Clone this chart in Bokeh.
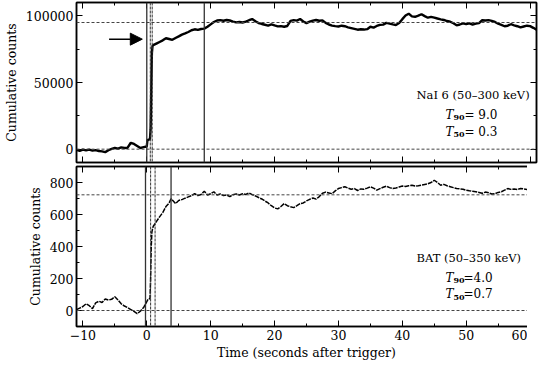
from bokeh.plotting import figure
from bokeh.models import (Span, Label, Arrow, NormalHead, LinearAxis, Range1d,
                          BasicTickFormatter, SingleIntervalTicker)
from bokeh.layouts import column
from bokeh.embed import file_html
from bokeh.resources import INLINE

# ---------------- data ----------------
nai_time = [-11.0, -10.5, -10.0, -9.5, -9.0, -8.5, -8.0, -7.5, -7.0, -6.5, -6.0, -5.5,
            -5.0, -4.5, -4.0, -3.5, -3.0, -2.5, -2.0, -1.5, -1.0, -0.5, 0.0, 0.1, 0.5,
            0.6, 0.7, 0.8, 0.9, 1.0, 1.5, 2.0, 2.5, 3.0, 3.5, 4.0, 4.5, 5.0, 5.5, 6.0,
            6.5, 7.0, 7.5, 8.0, 8.5, 9.0, 9.5, 10.0, 10.5, 11.0, 11.5, 12.0, 12.5, 13.0,
            13.5, 14.0, 14.5, 15.0, 15.5, 16.0, 16.5, 17.0, 17.5, 18.0, 18.5, 19.0, 19.5,
            20.0, 20.5, 21.0, 21.5, 22.0, 22.5, 23.0, 23.5, 24.0, 24.5, 25.0, 25.5, 26.0,
            26.5, 27.0, 27.5, 28.0, 28.5, 29.0, 29.5, 30.0, 30.5, 31.0, 31.5, 32.0, 32.5,
            33.0, 33.5, 34.0, 34.5, 35.0, 35.5, 36.0, 36.5, 37.0, 37.5, 38.0, 38.5, 39.0,
            39.5, 40.0, 40.5, 41.0, 41.5, 42.0, 42.5, 43.0, 43.5, 44.0, 44.5, 45.0, 45.5,
            46.0, 46.5, 47.0, 47.5, 48.0, 48.5, 49.0, 49.5, 50.0, 50.5, 51.0, 51.5, 52.0,
            52.5, 53.0, 53.5, 54.0, 54.5, 55.0, 55.5, 56.0, 56.5, 57.0, 57.5, 58.0, 58.5,
            59.0, 59.5, 60.0, 60.5, 61.0]
nai_counts = [-500, -1200, -300, -900, -400, -1100, -700, -1400, -1700, -2200, -800, 200,
              900, 400, 1300, 900, 1100, 4800, 3900, 2400, 900, 1500, 2000, 6800, 7600,
              15000, 45000, 72000, 77400, 78000, 79200, 80400, 81600, 83200, 82600, 82000,
              83400, 84600, 85900, 86800, 87900, 89200, 89900, 89500, 90100, 90400, 91800,
              93600, 95400, 96500, 96800, 96300, 96900, 96500, 95700, 95100, 95400, 95000,
              95600, 96700, 97600, 96000, 94600, 93900, 93300, 92700, 93600, 92800, 92100,
              92300, 91800, 92400, 96200, 96800, 96400, 97600, 95800, 94500, 95600, 96400,
              96900, 96300, 96600, 94700, 93500, 92700, 92300, 92000, 92600, 92200, 91400,
              90800, 90200, 89600, 89900, 89700, 90000, 91800, 91200, 92400, 93200, 93400,
              94700, 94200, 93600, 93100, 94600, 97500, 100200, 101600, 99600, 99300,
              100100, 101200, 99800, 98600, 99200, 98700, 98000, 97400, 96900, 96100,
              95600, 94400, 92900, 93500, 94400, 93800, 94300, 93400, 94100, 94600, 96700,
              96500, 96800, 96200, 95400, 94100, 93200, 92200, 92600, 93700, 92900, 92200,
              91300, 92000, 92600, 92300, 91000, 89600]

bat_time = [-11.0, -10.5, -10.0, -9.5, -9.0, -8.5, -8.0, -7.5, -7.0, -6.5, -6.0, -5.5,
            -5.0, -4.5, -4.0, -3.5, -3.0, -2.5, -2.0, -1.5, -1.0, -0.5, 0.0, 0.2, 0.5,
            0.6, 0.7, 0.8, 0.9, 1.0, 1.5, 2.0, 2.5, 3.0, 3.5, 3.8, 4.0, 4.5, 5.0, 5.5,
            6.0, 6.5, 7.0, 7.5, 8.0, 8.5, 9.0, 9.5, 10.0, 10.5, 11.0, 11.5, 12.0, 12.5,
            13.0, 13.5, 14.0, 14.5, 15.0, 15.5, 16.0, 16.5, 17.0, 17.5, 18.0, 18.5, 19.0,
            19.5, 20.0, 20.5, 21.0, 21.5, 22.0, 22.5, 23.0, 23.5, 24.0, 24.5, 25.0, 25.5,
            26.0, 26.5, 27.0, 27.5, 28.0, 28.5, 29.0, 29.5, 30.0, 30.5, 31.0, 31.5, 32.0,
            32.5, 33.0, 33.5, 34.0, 34.5, 35.0, 35.5, 36.0, 36.5, 37.0, 37.5, 38.0, 38.5,
            39.0, 39.5, 40.0, 40.5, 41.0, 41.5, 42.0, 42.5, 43.0, 43.5, 44.0, 44.5, 45.0,
            45.5, 46.0, 46.5, 47.0, 47.5, 48.0, 48.5, 49.0, 49.5, 50.0, 50.5, 51.0, 51.5,
            52.0, 52.5, 53.0, 53.5, 54.0, 54.5, 55.0, 55.5, 56.0, 56.5, 57.0, 57.5, 58.0,
            58.5, 59.0, 59.5, 60.0, 60.5, 61.0]
bat_counts = [5, 15, 25, 42, 30, 12, 48, 58, 50, 72, 65, 70, 86, 66, 42, 28, 18, 6, -6,
              -20, -4, 18, 55, 70, 75, 200, 400, 490, 510, 525, 555, 585, 612, 650, 672,
              698, 690, 668, 688, 693, 702, 710, 718, 730, 718, 725, 745, 722, 730, 742,
              722, 728, 718, 722, 712, 724, 729, 722, 730, 725, 735, 724, 716, 706, 697,
              684, 672, 655, 641, 635, 650, 668, 655, 648, 643, 655, 668, 672, 685, 695,
              703, 696, 712, 733, 740, 735, 730, 748, 762, 768, 773, 765, 758, 762, 750,
              760, 758, 765, 773, 765, 752, 762, 770, 777, 768, 762, 766, 772, 778, 775,
              780, 783, 778, 780, 784, 788, 792, 800, 814, 800, 783, 788, 780, 774, 768,
              763, 760, 758, 752, 748, 745, 742, 738, 733, 740, 736, 728, 730, 738, 742,
              752, 762, 757, 760, 756, 762, 760, 756, 758, 760, 757]

nai_levels = [0, 95000]          # 0 % and 100 % fluence levels
bat_levels = [0, 723]
nai_t90 = [0.0, 9.0]
nai_t50 = [0.55, 0.85]
bat_t90 = [-0.2, 3.8]
bat_t50 = [0.6, 1.3]
nai_name = "NaI 6 (50\u2013300 keV)"
bat_name = "BAT (50\u2013350 keV)"
nai_t90_txt, nai_t50_txt = "=  9.0", "=  0.3"
bat_t90_txt, bat_t50_txt = "=4.0", "=0.7"
arrow_x = [-5.9, -0.7]
arrow_y = 82500

x_lim = (-11.0, 61.0)
nai_lim = (-10000, 110000)
bat_lim = (-100, 900)

FONT = "DejaVu Serif"
FS = "12.5px"

xr = Range1d(*x_lim)


def style_axis(ax, show_labels):
    ax.axis_line_color = "black"
    ax.axis_line_width = 1.5
    ax.major_tick_line_color = "black"
    ax.minor_tick_line_color = "black"
    ax.major_tick_in = 6
    ax.major_tick_out = 0
    ax.minor_tick_in = 3
    ax.minor_tick_out = 0
    ax.major_label_text_font = FONT
    ax.axis_label_text_font = FONT
    ax.axis_label_text_font_style = "normal"
    ax.axis_label_text_font_size = "12.5px"
    ax.axis_label_text_color = "black"
    if show_labels:
        ax.major_label_text_color = "black"
        ax.major_label_text_font_size = FS
        ax.major_label_standoff = 3
    else:
        ax.major_label_text_color = None
        ax.major_label_text_font_size = "1px"
        ax.major_label_standoff = 0


def make_panel(t, c, ylim, yint, levels, t90, t50, dash, lw, show_x, height, bottom):
    p = figure(frame_width=460, frame_height=height, x_range=xr, y_range=Range1d(*ylim),
               output_backend="svg", toolbar_location=None, x_axis_location=None,
               y_axis_location=None, min_border_left=64, min_border_right=3,
               min_border_top=2, min_border_bottom=bottom)
    p.grid.visible = False
    p.outline_line_color = "black"
    p.outline_line_width = 1.5
    p.background_fill_color = "white"
    p.border_fill_color = "white"

    xt = SingleIntervalTicker(interval=10, num_minor_ticks=2)
    yt = SingleIntervalTicker(interval=yint, num_minor_ticks=2)

    ax_b = LinearAxis(ticker=xt)
    style_axis(ax_b, show_x)
    if show_x:
        ax_b.axis_label = "Time (seconds after trigger)"
        ax_b.axis_label_standoff = 2
    p.add_layout(ax_b, "below")
    ax_t = LinearAxis(ticker=xt)
    style_axis(ax_t, False)
    p.add_layout(ax_t, "above")

    ax_l = LinearAxis(ticker=yt, formatter=BasicTickFormatter(use_scientific=False),
                      axis_label="Cumulative counts")
    style_axis(ax_l, True)
    ax_l.axis_label_standoff = 4
    p.add_layout(ax_l, "left")
    ax_r = LinearAxis(ticker=yt)
    style_axis(ax_r, False)
    p.add_layout(ax_r, "right")

    for lv in levels:
        p.add_layout(Span(location=lv, dimension="width", line_color="#444",
                          line_dash="3 2", line_width=1))
    for tv in t90:
        p.add_layout(Span(location=tv, dimension="height", line_color="#333",
                          line_width=1.3))
    for tv in t50:
        p.add_layout(Span(location=tv, dimension="height", line_color="#333",
                          line_dash="3 1", line_width=1))

    if dash:
        p.line(t, c, line_color="black", line_width=lw, line_dash=dash)
    else:
        p.line(t, c, line_color="black", line_width=lw)
    return p


def add_texts(p, name, y_name, y90, y50, t90_txt, t50_txt, eq_off):
    xr_edge = x_lim[1]
    p.add_layout(Label(x=xr_edge, y=y_name, x_offset=-120, text=name, text_font=FONT,
                       text_font_size="11.5px", text_baseline="middle", text_align="left",
                       text_color="black"))
    for yy, sub, txt in ((y90, "90", t90_txt), (y50, "50", t50_txt)):
        p.add_layout(Label(x=xr_edge, y=yy, x_offset=-91, text="T", text_font=FONT,
                           text_font_size="12px", text_font_style="italic",
                           text_baseline="middle", text_align="left", text_color="black"))
        p.add_layout(Label(x=xr_edge, y=yy, x_offset=-83, y_offset=-3, text=sub,
                           text_font=FONT, text_font_size="8px", text_font_style="bold",
                           text_baseline="middle", text_align="left", text_color="black"))
        p.add_layout(Label(x=xr_edge, y=yy, x_offset=-91 + eq_off, text=txt, text_font=FONT,
                           text_font_size="12px", text_baseline="middle",
                           text_align="left", text_color="black"))


p1 = make_panel(nai_time, nai_counts, nai_lim, 50000, nai_levels, nai_t90, nai_t50,
                None, 2.4, False, 160, 2)
add_texts(p1, nai_name, 40700, 26000, 12900, nai_t90_txt, nai_t50_txt, 19)
p1.add_layout(Arrow(x_start=arrow_x[0], y_start=arrow_y, x_end=arrow_x[1], y_end=arrow_y,
                    line_color="black", line_width=1.5,
                    end=NormalHead(size=12, fill_color="black", line_color="black")))

p2 = make_panel(bat_time, bat_counts, bat_lim, 200, bat_levels, bat_t90, bat_t50,
                "5 1", 1.5, True, 160, 28)
add_texts(p2, bat_name, 327, 205, 102, bat_t90_txt, bat_t50_txt, 18)

layout = column(p1, p2, spacing=0)
open("out.html", "w").write(file_html(layout, INLINE))
